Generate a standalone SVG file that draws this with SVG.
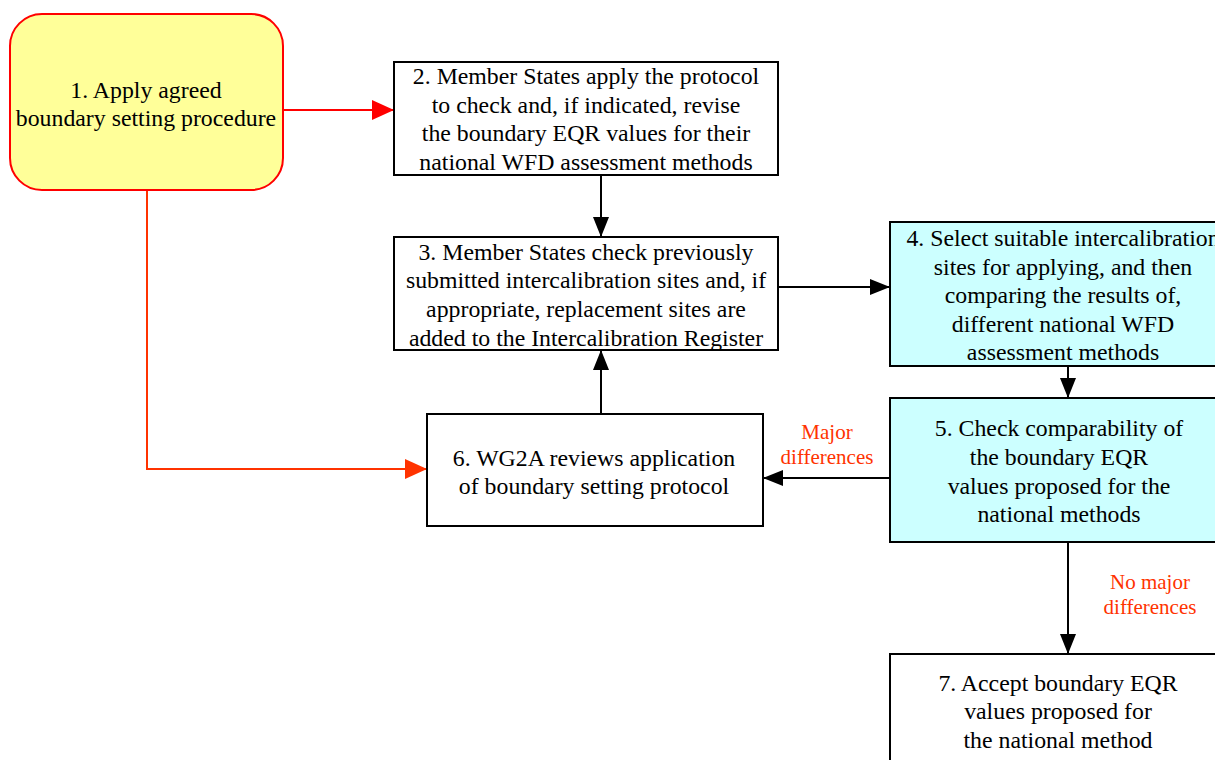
<svg xmlns="http://www.w3.org/2000/svg" width="1215" height="760" viewBox="0 0 1215 760">
<style>
.t{font-family:"Liberation Serif","Times New Roman",serif;font-size:23.8px;fill:#000;text-anchor:middle}
.l{font-family:"Liberation Serif","Times New Roman",serif;font-size:21px;fill:#FF3300;text-anchor:middle}
.box{fill:#fff;stroke:#000;stroke-width:2}
.cyan{fill:#CCFFFF;stroke:#000;stroke-width:2}
.c{fill:none;stroke:#000;stroke-width:2}
</style>
<defs>
<marker id="ab" viewBox="0 0 20 16" refX="20" refY="8" markerWidth="20" markerHeight="16" markerUnits="userSpaceOnUse" orient="auto"><path d="M0,0 L20,8 L0,16 Z" fill="#000"/></marker>
<marker id="ar" viewBox="0 0 22 20" refX="22" refY="10" markerWidth="22" markerHeight="20" markerUnits="userSpaceOnUse" orient="auto"><path d="M0,0 L22,10 L0,20 Z" fill="#FF0000"/></marker>
<marker id="ao" viewBox="0 0 22 20" refX="22" refY="10" markerWidth="22" markerHeight="20" markerUnits="userSpaceOnUse" orient="auto"><path d="M0,0 L22,10 L0,20 Z" fill="#FF3300"/></marker>
</defs>
<rect width="1215" height="760" fill="#fff"/>
<g id="connectors">
<line x1="283" y1="110" x2="394" y2="110" stroke="#FF0000" stroke-width="2" marker-end="url(#ar)"/>
<polyline points="147,190 147,469 427,469" fill="none" stroke="#FF3300" stroke-width="2" marker-end="url(#ao)"/>
<line class="c" x1="601" y1="175" x2="601" y2="237" marker-end="url(#ab)"/>
<line class="c" x1="778" y1="287" x2="890" y2="287" marker-end="url(#ab)"/>
<line class="c" x1="1068" y1="366" x2="1068" y2="398" marker-end="url(#ab)"/>
<line class="c" x1="890" y1="478" x2="763" y2="478" marker-end="url(#ab)"/>
<line class="c" x1="601" y1="414" x2="601" y2="350" marker-end="url(#ab)"/>
<line class="c" x1="1068" y1="542" x2="1068" y2="654" marker-end="url(#ab)"/>
<text class="l" x="827" y="439">Major</text>
<text class="l" x="827" y="464">differences</text>
<text class="l" x="1150" y="589">No major</text>
<text class="l" x="1150" y="614">differences</text>
</g>
<g id="n1">
<rect x="10" y="14" width="273" height="176" rx="32" ry="32" fill="#FFFF99" stroke="#FF0000" stroke-width="2"/>
<text class="t" x="146" y="98">1. Apply agreed</text>
<text class="t" x="146" y="126">boundary setting procedure</text>
</g>
<g id="n2">
<rect class="box" x="394" y="62" width="384" height="113"/>
<text class="t" x="586" y="84">2. Member States apply the protocol</text>
<text class="t" x="586" y="113">to check and, if indicated, revise</text>
<text class="t" x="586" y="141">the boundary EQR values for their</text>
<text class="t" x="586" y="170">national WFD assessment methods</text>
</g>
<g id="n3">
<rect class="box" x="394" y="237" width="384" height="113"/>
<text class="t" x="586" y="260">3. Member States check previously</text>
<text class="t" x="586" y="288">submitted intercalibration sites and, if</text>
<text class="t" x="586" y="317">appropriate, replacement sites are</text>
<text class="t" x="586" y="346">added to the Intercalibration Register</text>
</g>
<g id="n4">
<rect class="cyan" x="890" y="222" width="356" height="144"/>
<text class="t" x="1063" y="246">4. Select suitable intercalibration</text>
<text class="t" x="1063" y="275">sites for applying, and then</text>
<text class="t" x="1063" y="303">comparing the results of,</text>
<text class="t" x="1063" y="332">different national WFD</text>
<text class="t" x="1063" y="360">assessment methods</text>
</g>
<g id="n5">
<rect class="cyan" x="890" y="398" width="356" height="144"/>
<text class="t" x="1059" y="436">5. Check comparability of</text>
<text class="t" x="1059" y="465">the boundary EQR</text>
<text class="t" x="1059" y="494">values proposed for the</text>
<text class="t" x="1059" y="522">national methods</text>
</g>
<g id="n6">
<rect class="box" x="427" y="414" width="336" height="112"/>
<text class="t" x="594" y="466">6. WG2A reviews application</text>
<text class="t" x="594" y="494">of boundary setting protocol</text>
</g>
<g id="n7">
<rect class="box" x="890" y="654" width="356" height="130"/>
<text class="t" x="1058" y="691">7. Accept boundary EQR</text>
<text class="t" x="1058" y="719">values proposed for</text>
<text class="t" x="1058" y="748">the national method</text>
</g>
</svg>
